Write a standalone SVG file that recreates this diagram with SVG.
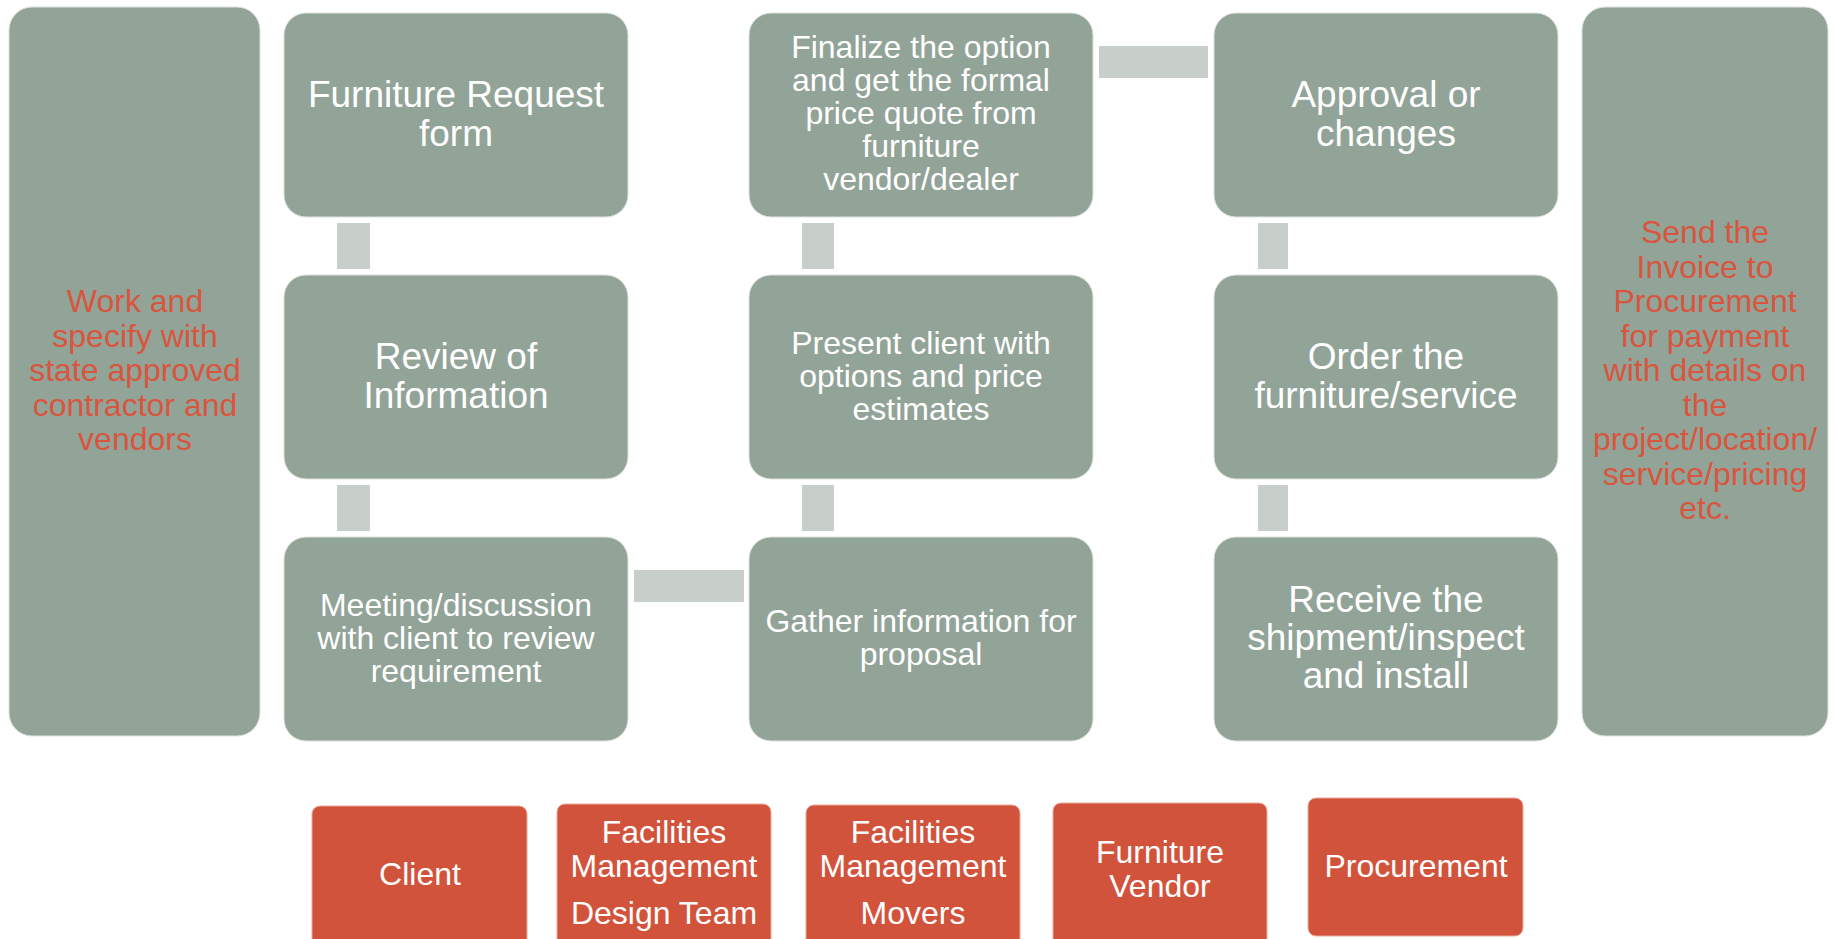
<svg xmlns="http://www.w3.org/2000/svg" width="1835" height="939" viewBox="0 0 1835 939">
<style>
.box{fill:#92A398;stroke:#DCE2DE;stroke-width:1}
.role{fill:#D2533C;stroke:#EBA999;stroke-width:1}
.conn{fill:#C8CFCB}
text{font-family:"Liberation Sans",Arial,sans-serif;text-anchor:middle}
.big{font-size:37px;fill:#FFFFFF}
.sm{font-size:32px;fill:#FFFFFF}
.red{font-size:32px;fill:#D9553D}
</style>
<rect width="1835" height="939" fill="#FFFFFF"/>
<g id="connectors">
<rect class="conn" x="337" y="223" width="33" height="46"/>
<rect class="conn" x="337" y="485" width="33" height="46"/>
<rect class="conn" x="634" y="570" width="110" height="32"/>
<rect class="conn" x="802" y="223" width="32" height="46"/>
<rect class="conn" x="802" y="485" width="32" height="46"/>
<rect class="conn" x="1099" y="46" width="109" height="32"/>
<rect class="conn" x="1258" y="223" width="30" height="46"/>
<rect class="conn" x="1258" y="485" width="30" height="46"/>
</g>
<g id="left-note">
<rect class="box" x="9" y="7" width="251" height="729" rx="23"/>
<text class="red" x="135"><tspan x="135" y="312">Work and</tspan><tspan x="135" y="346.5">specify with</tspan><tspan x="135" y="381">state approved</tspan><tspan x="135" y="415.5">contractor and</tspan><tspan x="135" y="450">vendors</tspan></text>
</g>
<g id="n-request">
<rect class="box" x="284" y="13" width="344" height="204" rx="22"/>
<text class="big"><tspan x="456" y="107">Furniture Request</tspan><tspan x="456" y="146">form</tspan></text>
</g>
<g id="n-review">
<rect class="box" x="284" y="275" width="344" height="204" rx="22"/>
<text class="big"><tspan x="456" y="369">Review of</tspan><tspan x="456" y="408">Information</tspan></text>
</g>
<g id="n-meeting">
<rect class="box" x="284" y="537" width="344" height="204" rx="22"/>
<text class="sm"><tspan x="456" y="616">Meeting/discussion</tspan><tspan x="456" y="649">with client to review</tspan><tspan x="456" y="682">requirement</tspan></text>
</g>
<g id="n-finalize">
<rect class="box" x="749" y="13" width="344" height="204" rx="22"/>
<text class="sm"><tspan x="921" y="58">Finalize the option</tspan><tspan x="921" y="91">and get the formal</tspan><tspan x="921" y="124">price quote from</tspan><tspan x="921" y="157">furniture</tspan><tspan x="921" y="190">vendor/dealer</tspan></text>
</g>
<g id="n-present">
<rect class="box" x="749" y="275" width="344" height="204" rx="22"/>
<text class="sm"><tspan x="921" y="354">Present client with</tspan><tspan x="921" y="387">options and price</tspan><tspan x="921" y="420">estimates</tspan></text>
</g>
<g id="n-gather">
<rect class="box" x="749" y="537" width="344" height="204" rx="22"/>
<text class="sm"><tspan x="921" y="632">Gather information for</tspan><tspan x="921" y="665">proposal</tspan></text>
</g>
<g id="n-approval">
<rect class="box" x="1214" y="13" width="344" height="204" rx="22"/>
<text class="big"><tspan x="1386" y="107">Approval or</tspan><tspan x="1386" y="146">changes</tspan></text>
</g>
<g id="n-order">
<rect class="box" x="1214" y="275" width="344" height="204" rx="22"/>
<text class="big"><tspan x="1386" y="369">Order the</tspan><tspan x="1386" y="408">furniture/service</tspan></text>
</g>
<g id="n-receive">
<rect class="box" x="1214" y="537" width="344" height="204" rx="22"/>
<text class="big"><tspan x="1386" y="612">Receive the</tspan><tspan x="1386" y="650">shipment/inspect</tspan><tspan x="1386" y="688">and install</tspan></text>
</g>
<g id="right-note">
<rect class="box" x="1582" y="7" width="246" height="729" rx="23"/>
<text class="red"><tspan x="1705" y="243">Send the</tspan><tspan x="1705" y="277.5">Invoice to</tspan><tspan x="1705" y="312">Procurement</tspan><tspan x="1705" y="346.5">for payment</tspan><tspan x="1705" y="381">with details on</tspan><tspan x="1705" y="415.5">the</tspan><tspan x="1705" y="450">project/location/</tspan><tspan x="1705" y="484.5">service/pricing</tspan><tspan x="1705" y="519">etc.</tspan></text>
</g>
<g id="r-client">
<rect class="role" x="312" y="806" width="215" height="145" rx="8"/>
<text class="sm" x="420" y="885">Client</text>
</g>
<g id="r-design">
<rect class="role" x="557" y="804" width="214" height="145" rx="8"/>
<text class="sm"><tspan x="664" y="843">Facilities</tspan><tspan x="664" y="877">Management</tspan><tspan x="664" y="924">Design Team</tspan></text>
</g>
<g id="r-movers">
<rect class="role" x="806" y="805" width="214" height="145" rx="8"/>
<text class="sm"><tspan x="913" y="843">Facilities</tspan><tspan x="913" y="877">Management</tspan><tspan x="913" y="924">Movers</tspan></text>
</g>
<g id="r-vendor">
<rect class="role" x="1053" y="803" width="214" height="145" rx="8"/>
<text class="sm"><tspan x="1160" y="863">Furniture</tspan><tspan x="1160" y="897">Vendor</tspan></text>
</g>
<g id="r-procurement">
<rect class="role" x="1308" y="798" width="215" height="138" rx="8"/>
<text class="sm" x="1416" y="877">Procurement</text>
</g>
</svg>
